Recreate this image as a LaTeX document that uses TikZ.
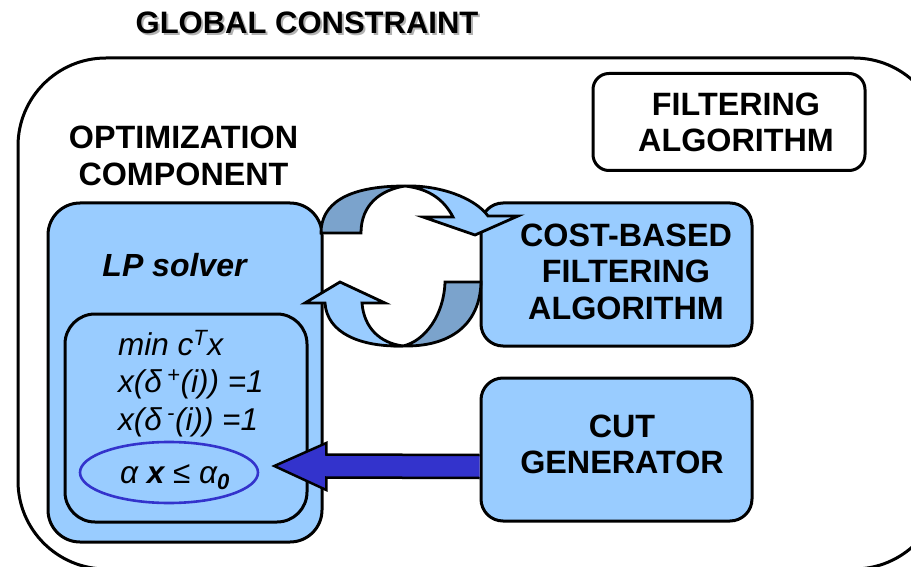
\documentclass[tikz,border=0pt]{standalone}
\usepackage{fontspec}
\setmainfont{Liberation Sans}
\usetikzlibrary{calc,shapes.geometric}
\definecolor{lb}{HTML}{99CCFF}
\definecolor{db}{HTML}{7BA3CC}
\definecolor{bb}{HTML}{3333CC}
\begin{document}
\begin{tikzpicture}[x=1pt,y=-1pt,
  rbox/.style={draw=black, line width=3pt, fill=lb, rectangle, inner sep=0pt},
  lbl/.style={font=\fontsize{32.3}{36.5}\selectfont\bfseries, align=center},
  mth/.style={font=\fontsize{31.5}{36}\selectfont\itshape, anchor=base west, inner sep=0pt},
  ring/.style={draw=black, line width=2.8pt, line join=miter},
]
\useasboundingbox (0,0) rectangle (911,567);
% global constraint frame
\node[draw=black, line width=3pt, rectangle, rounded corners=88pt, minimum width=924pt, minimum height=511pt, inner sep=0pt] (glob) at (480,313.5) {};
% title with shadow
\node[font=\fontsize{31}{36}\selectfont\bfseries, text=black!30] (titleshadow) at (309,25) {GLOBAL CONSTRAINT};
\node[font=\fontsize{31}{36}\selectfont\bfseries] (title) at (307,23) {GLOBAL CONSTRAINT};
% filtering algorithm box
\node[rbox, fill=white, rounded corners=16pt, minimum width=272pt, minimum height=97pt] (filt) at (729,122) {};
\node[lbl] (filtlbl) at (736,122.5) {FILTERING\\ALGORITHM};
% optimization component label
\node[lbl] (optlbl) at (183.5,156) {OPTIMIZATION\\COMPONENT};
% LP box
\node[rbox, rounded corners=32pt, minimum width=274pt, minimum height=339pt] (lp) at (185,372.5) {};
\node[font=\fontsize{32}{36}\selectfont\bfseries\itshape] (lps) at (174.5,265) {LP solver};
\node[rbox, rounded corners=30pt, minimum width=242pt, minimum height=208pt] (inner) at (186,418) {};
\node[mth] (m1) at (118,355) {min c\textsuperscript{T}x};
\node[mth] (m2) at (118,392) {x(δ\,\textsuperscript{+}(i)) =1};
\node[mth] (m3) at (118,430) {x(δ\,\textsuperscript{-}(i)) =1};
\node[ellipse, draw=bb, line width=2.6pt, minimum width=178pt, minimum height=61pt, inner sep=0pt] (ell) at (169,472.5) {};
\node[mth] (m4) at (120,483) {α \textbf{x} ≤ α\textsubscript{\textbf{0}}};
% right boxes
\node[rbox, rounded corners=22pt, minimum width=271pt, minimum height=143pt] (cost) at (616.5,274.5) {};
\node[lbl] (costlbl) at (626,271.5) {COST-BASED\\FILTERING\\ALGORITHM};
\node[rbox, rounded corners=22pt, minimum width=271pt, minimum height=143pt] (cut) at (616.5,449.5) {};
\node[lbl] (cutlbl) at (622,444.5) {CUT\\GENERATOR};
% blue arrow from cut generator to the cut
\coordinate (aS) at (cut.west |- 0,466.5);
\coordinate (aT) at ($(ell.east)+(15,-6.5)$);
\filldraw[fill=bb, draw=black, line width=2.5pt] ($(aS)+(0,-11.5)$) -- ($(aT)+(52,-11.5)$) -- ($(aT)+(52,-23)$) -- (aT) -- ($(aT)+(52,24)$) -- ($(aT)+(52,11.5)$) -- ($(aS)+(0,11.5)$);
% circular arrows between LP solver and cost-based filtering
\filldraw[ring, fill=db] (321,233) .. controls (321,205) and (345,186) .. (405,186) .. controls (380,190) and (361,205) .. (361,233) -- cycle;
\filldraw[ring, fill=lb] (405,186) .. controls (440,185) and (475,198) .. (488,216) -- (518,216) -- (475,235) -- (423,217) -- (453,217) .. controls (444,200) and (430,189) .. (405,186) -- cycle;
\filldraw[ring, fill=db] (481,282) .. controls (480,325) and (450,347) .. (403,346) .. controls (425,341) and (444,315) .. (445,282) -- cycle;
\filldraw[ring, fill=lb] (403,346) .. controls (360,347) and (327,333) .. (325,303) -- (305,303) -- (340,282) -- (385,303) -- (362,303) .. controls (364,328) and (380,343) .. (403,346) -- cycle;
\end{tikzpicture}
\end{document}
